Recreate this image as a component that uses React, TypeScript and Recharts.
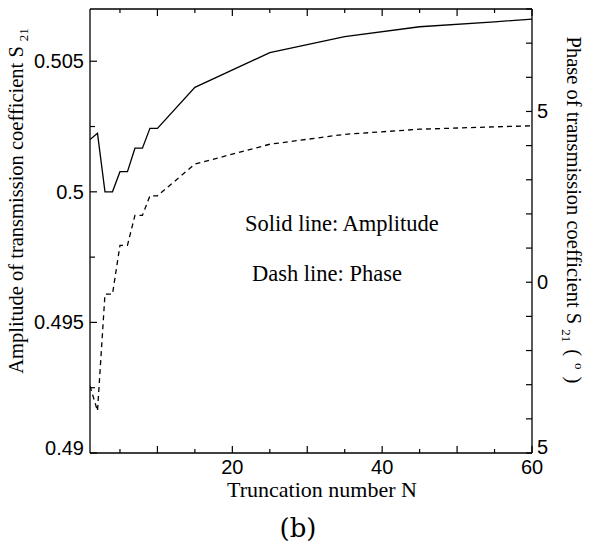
import React from "react";
import { LineChart, Line, XAxis, YAxis, Customized } from "recharts";

// truncation numbers N
const truncation = [1, 2, 3, 4, 5, 6, 7, 8, 9, 10, 15, 25, 35, 45, 55, 60];
// amplitude of S21 (left axis)
const amplitude = [
  0.502, 0.50224, 0.5, 0.5, 0.50077, 0.50077, 0.50167, 0.50167, 0.50243, 0.50243,
  0.504, 0.50533, 0.50594, 0.50632, 0.50651, 0.50661,
];
// phase of S21 in degrees (right axis)
const phase = [
  -3.04, -3.77, -0.35, -0.35, 1.08, 1.08, 1.96, 1.96, 2.53, 2.53, 3.46, 4.04, 4.33, 4.48,
  4.55, 4.58,
];

const xTicks = [5, 10, 15, 20, 25, 30, 35, 40, 45, 50, 55, 60];
const xLabels = [20, 40, 60];
const ampTicks = [0.49, 0.4925, 0.495, 0.4975, 0.5, 0.5025, 0.505];
const phaseTicks = [-5, -4, -3, -2, -1, 0, 1, 2, 3, 4, 5, 6, 7, 8];
const phaseLabels = [-5, 0, 5];

const data = truncation.map((n, i) => ({ n, amp: amplitude[i], ph: phase[i] }));

const SANS = "'Liberation Sans', Arial, sans-serif";
const SERIF = "'Liberation Serif', 'Times New Roman', serif";
const AXIS = { stroke: "#000", strokeWidth: 1.3 };

function BottomTick({ x, y, payload }: any) {
  const v = payload.value;
  const len = v % 10 === 0 ? 7 : 4;
  return (
    <g>
      <line x1={x} x2={x} y1={y} y2={y - len} stroke="#000" strokeWidth={1.2} />
      {xLabels.includes(v) && (
        <text x={x} y={y + 21} textAnchor="middle" fontFamily={SANS} fontSize={20} fill="#000">
          {v}
        </text>
      )}
    </g>
  );
}

function TopTick({ x, y, payload }: any) {
  const len = payload.value % 10 === 0 ? 7 : 4;
  return <line x1={x} x2={x} y1={y} y2={y + len} stroke="#000" strokeWidth={1.2} />;
}

function LeftTick({ x, y, payload }: any) {
  const v = payload.value;
  const major = Math.abs(v / 0.005 - Math.round(v / 0.005)) < 1e-6;
  // lowest label sits a little above the frame corner
  const ty = v === 0.49 ? y - 5 : y;
  return (
    <g>
      <line x1={x} x2={x + (major ? 7 : 5)} y1={y} y2={y} stroke="#000" strokeWidth={1.2} />
      {major && (
        <text x={x - 6} y={ty} textAnchor="end" dominantBaseline="central" fontFamily={SANS} fontSize={20} fill="#000">
          {String(Number(v.toFixed(4)))}
        </text>
      )}
    </g>
  );
}

function RightTick({ x, y, payload }: any) {
  const v = payload.value;
  const ty = v === -5 ? y - 6 : y;
  return (
    <g>
      <line x1={x} x2={x - 6} y1={y} y2={y} stroke="#000" strokeWidth={1.2} />
      {phaseLabels.includes(v) && (
        <text x={x + 5} y={ty} textAnchor="start" dominantBaseline="central" fontFamily={SANS} fontSize={20} fill="#000">
          {Math.abs(v)}
        </text>
      )}
    </g>
  );
}

function Annotations() {
  return (
    <g fill="#000">
      <text x={245} y={231} fontFamily={SERIF} fontSize={22.5}>
        Solid line: Amplitude
      </text>
      <text x={252} y={281} fontFamily={SERIF} fontSize={22.5}>
        Dash line: Phase
      </text>
      <text x={322} y={497} textAnchor="middle" fontFamily={SERIF} fontSize={22}>
        Truncation number N
      </text>
      <text x={298} y={537} textAnchor="middle" fontFamily="'DejaVu Serif', serif" fontSize={26}>
        (b)
      </text>
      <text
        x={0}
        y={0}
        transform="translate(23 201) rotate(-90)"
        textAnchor="middle"
        fontFamily={SERIF}
        fontSize={20.5}
      >
        Amplitude of transmission coefficient S
        <tspan dx={5} dy={5} fontSize={13}>21</tspan>
      </text>
      <text
        x={0}
        y={0}
        transform="translate(567 210) rotate(90)"
        textAnchor="middle"
        fontFamily={SERIF}
        fontSize={20.5}
      >
        Phase of transmission coefficient S
        <tspan dx={5} dy={5} fontSize={13}>21</tspan>
        <tspan dx={7} dy={-5}>(</tspan>
        <tspan dx={7} dy={-8} fontSize={13}>o</tspan>
        <tspan dx={7} dy={8}>)</tspan>
      </text>
    </g>
  );
}

export default function App() {
  return (
    <div style={{ position: "absolute", left: 0, top: 0, background: "#fff" }}>
      <LineChart width={589} height={549} data={data} margin={{ top: 4, right: 27, bottom: 66, left: 30 }}>
        <XAxis
          xAxisId="b"
          dataKey="n"
          type="number"
          domain={[1, 60]}
          ticks={xTicks}
          allowDataOverflow
          height={30}
          axisLine={AXIS}
          tickLine={false}
          tickSize={0}
          tickMargin={0}
          tick={<BottomTick />}
          interval={0}
        />
        <XAxis
          xAxisId="t"
          orientation="top"
          dataKey="n"
          type="number"
          domain={[1, 60]}
          ticks={xTicks}
          allowDataOverflow
          height={5}
          axisLine={AXIS}
          tickLine={false}
          tickSize={0}
          tickMargin={0}
          tick={<TopTick />}
          interval={0}
        />
        <YAxis
          yAxisId="amp"
          type="number"
          domain={[0.49, 0.507]}
          ticks={ampTicks}
          allowDataOverflow
          width={60}
          axisLine={AXIS}
          tickLine={false}
          tickSize={0}
          tickMargin={0}
          tick={<LeftTick />}
          interval={0}
        />
        <YAxis
          yAxisId="ph"
          orientation="right"
          type="number"
          domain={[-5, 8]}
          ticks={phaseTicks}
          allowDataOverflow
          width={30}
          axisLine={AXIS}
          tickLine={false}
          tickSize={0}
          tickMargin={0}
          tick={<RightTick />}
          interval={0}
        />
        <Line
          xAxisId="b"
          yAxisId="amp"
          type="linear"
          dataKey="amp"
          stroke="#000"
          strokeWidth={1.3}
          dot={false}
          isAnimationActive={false}
        />
        <Line
          xAxisId="b"
          yAxisId="ph"
          type="linear"
          dataKey="ph"
          stroke="#000"
          strokeWidth={1.3}
          strokeDasharray="5 4"
          dot={false}
          isAnimationActive={false}
        />
        <Customized component={Annotations} />
      </LineChart>
    </div>
  );
}
